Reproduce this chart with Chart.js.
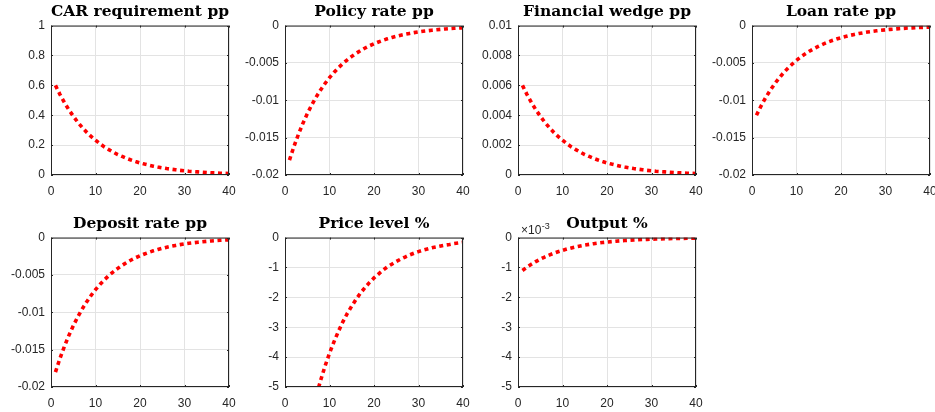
<!DOCTYPE html>
<html>
<head>
<meta charset="utf-8">
<script src="https://cdn.jsdelivr.net/npm/chart.js@4.4.1/dist/chart.umd.min.js"></script>
<style>
body { margin: 0; background: #fff; }
#wrap { position: relative; width: 935px; height: 412px; overflow: hidden; }
canvas { position: absolute; }
</style>
</head>
<body>
<div id="wrap">
<canvas id="car" width="237" height="197" style="left:0px;top:0px"></canvas>
<canvas id="policy" width="237" height="197" style="left:234px;top:0px"></canvas>
<canvas id="wedge" width="237" height="197" style="left:467px;top:0px"></canvas>
<canvas id="loan" width="237" height="197" style="left:701px;top:0px"></canvas>
<canvas id="deposit" width="237" height="197" style="left:0px;top:212px"></canvas>
<canvas id="price" width="237" height="197" style="left:234px;top:212px"></canvas>
<canvas id="output" width="237" height="197" style="left:467px;top:212px"></canvas>
</div>
<script>
const periods = [1,2,3,4,5,6,7,8,9,10,11,12,13,14,15,16,17,18,19,20,
                 21,22,23,24,25,26,27,28,29,30,31,32,33,34,35,36,37,38,39,40];

const carRequirement = [0.600,0.540,0.486,0.437,0.394,0.354,0.319,0.287,0.258,0.233,
  0.209,0.188,0.170,0.153,0.137,0.124,0.111,0.100,0.090,0.081,
  0.073,0.066,0.059,0.053,0.048,0.043,0.039,0.035,0.031,0.028,
  0.025,0.023,0.021,0.019,0.017,0.015,0.014,0.012,0.011,0.010];

const policyRate = [-0.01800,-0.01620,-0.01458,-0.01312,-0.01181,-0.01063,-0.00957,-0.00861,-0.00775,-0.00697,
  -0.00628,-0.00565,-0.00508,-0.00458,-0.00412,-0.00371,-0.00334,-0.00300,-0.00270,-0.00243,
  -0.00219,-0.00197,-0.00177,-0.00160,-0.00144,-0.00129,-0.00116,-0.00105,-0.00094,-0.00085,
  -0.00076,-0.00069,-0.00062,-0.00056,-0.00050,-0.00045,-0.00040,-0.00036,-0.00033,-0.00030];

const financialWedge = [0.00600,0.00540,0.00486,0.00437,0.00394,0.00354,0.00319,0.00287,0.00258,0.00233,
  0.00209,0.00188,0.00170,0.00153,0.00137,0.00124,0.00111,0.00100,0.00090,0.00081,
  0.00073,0.00066,0.00059,0.00053,0.00048,0.00043,0.00039,0.00035,0.00031,0.00028,
  0.00025,0.00023,0.00021,0.00019,0.00017,0.00015,0.00014,0.00012,0.00011,0.00010];

const loanRate = [-0.01200,-0.01080,-0.00972,-0.00875,-0.00787,-0.00709,-0.00638,-0.00574,-0.00517,-0.00465,
  -0.00418,-0.00377,-0.00339,-0.00305,-0.00275,-0.00247,-0.00222,-0.00200,-0.00180,-0.00162,
  -0.00146,-0.00131,-0.00118,-0.00106,-0.00096,-0.00086,-0.00078,-0.00070,-0.00063,-0.00057,
  -0.00051,-0.00046,-0.00041,-0.00037,-0.00033,-0.00030,-0.00027,-0.00024,-0.00022,-0.00020];

const depositRate = [-0.01800,-0.01620,-0.01458,-0.01312,-0.01181,-0.01063,-0.00957,-0.00861,-0.00775,-0.00697,
  -0.00628,-0.00565,-0.00508,-0.00458,-0.00412,-0.00371,-0.00334,-0.00300,-0.00270,-0.00243,
  -0.00219,-0.00197,-0.00177,-0.00160,-0.00144,-0.00129,-0.00116,-0.00105,-0.00094,-0.00085,
  -0.00076,-0.00069,-0.00062,-0.00056,-0.00050,-0.00045,-0.00040,-0.00036,-0.00033,-0.00030];

const priceLevel = [-10.00,-9.00,-8.10,-7.29,-6.56,-5.90,-5.31,-4.78,-4.30,-3.87,
  -3.49,-3.14,-2.82,-2.54,-2.29,-2.06,-1.85,-1.67,-1.50,-1.35,
  -1.22,-1.09,-0.98,-0.89,-0.80,-0.72,-0.65,-0.58,-0.52,-0.47,
  -0.42,-0.38,-0.34,-0.31,-0.28,-0.25,-0.23,-0.20,-0.18,-0.16];

const output = [-0.001100,-0.000990,-0.000891,-0.000802,-0.000722,-0.000650,-0.000585,-0.000526,-0.000473,-0.000426,
  -0.000383,-0.000345,-0.000311,-0.000280,-0.000252,-0.000227,-0.000204,-0.000183,-0.000165,-0.000149,
  -0.000134,-0.000120,-0.000108,-0.000098,-0.000088,-0.000079,-0.000071,-0.000064,-0.000058,-0.000052,
  -0.000047,-0.000042,-0.000038,-0.000034,-0.000031,-0.000028,-0.000025,-0.000022,-0.000020,-0.000018];

const xTicks = [0, 10, 20, 30, 40];

Chart.defaults.font.family = "'Liberation Sans', Arial, sans-serif";
Chart.defaults.font.size = 12;
Chart.defaults.color = '#262626';

// matlab style box with inward ticks on all sides
const boxPlugin = {
  id: 'box',
  afterDraw(chart) {
    let a = chart.chartArea;
    let ctx = chart.ctx;
    ctx.save();
    ctx.strokeStyle = '#262626';
    ctx.lineWidth = 1;
    ctx.strokeRect(a.left + 0.5, a.top + 0.5, a.right - a.left - 1, a.bottom - a.top - 1);
    ctx.beginPath();
    chart.scales.x.ticks.forEach(t => {
      let px = Math.round(chart.scales.x.getPixelForValue(t.value)) + 0.5;
      ctx.moveTo(px, a.bottom); ctx.lineTo(px, a.bottom - 2);
      ctx.moveTo(px, a.top); ctx.lineTo(px, a.top + 2);
    });
    chart.scales.y.ticks.forEach(t => {
      let py = Math.round(chart.scales.y.getPixelForValue(t.value)) + 0.5;
      ctx.moveTo(a.left, py); ctx.lineTo(a.left + 2, py);
      ctx.moveTo(a.right, py); ctx.lineTo(a.right - 2, py);
    });
    ctx.stroke();
    let exp = chart.options.plugins.box.exponent;
    if (exp) {
      ctx.fillStyle = '#262626';
      ctx.textAlign = 'left';
      ctx.textBaseline = 'alphabetic';
      ctx.font = "12px 'Liberation Sans', Arial, sans-serif";
      ctx.fillText('\u00d710', a.left + 3, a.top - 3.5);
      let w = ctx.measureText('\u00d710').width;
      ctx.font = "9px 'Liberation Sans', Arial, sans-serif";
      ctx.fillText(exp, a.left + 3 + w + 0.5, a.top - 9);
    }
    ctx.restore();
  }
};

function fmt(v) {
  return String(parseFloat(v.toFixed(6)));
}

function makePanel(id, title, values, yMin, yMax, yStep, tickFmt, exponent) {
  let pts = periods.map((p, i) => ({ x: p, y: values[i] }));
  return new Chart(document.getElementById(id).getContext('2d'), {
    type: 'line',
    data: {
      datasets: [{
        data: pts,
        borderColor: 'rgb(255,0,0)',
        borderWidth: 3.6,
        borderDash: [4, 3.6],
        borderCapStyle: 'butt',
        pointRadius: 0,
        tension: 0,
        fill: false,
        clip: 0
      }]
    },
    options: {
      responsive: false,
      animation: false,
      layout: { padding: { left: 0, right: 8, top: 0, bottom: 0 }, autoPadding: false },
      plugins: {
        legend: { display: false },
        tooltip: { enabled: false },
        title: {
          display: true,
          text: title,
          fullSize: false,
          color: '#000',
          font: { family: "'DejaVu Serif', serif", weight: 'bold', size: 15.5 },
          padding: { top: 3, bottom: 4 }
        },
        box: { exponent: exponent }
      },
      scales: {
        x: {
          type: 'linear',
          min: 0, max: 40,
          afterBuildTicks: s => { s.ticks = xTicks.map(v => ({ value: v })); },
          afterFit: s => { s.height = 22; s.paddingLeft = 0; s.paddingRight = 0; },
          grid: { color: '#e3e3e3', drawTicks: false },
          border: { display: false },
          ticks: { padding: 9, maxRotation: 0, callback: v => String(v) }
        },
        y: {
          min: yMin, max: yMax,
          afterFit: s => { s.width = 51; },
          grid: { color: '#e3e3e3', drawTicks: false },
          border: { display: false },
          ticks: { stepSize: yStep, padding: 6, callback: tickFmt }
        }
      }
    },
    plugins: [boxPlugin]
  });
}

makePanel('car', 'CAR requirement pp', carRequirement, 0, 1, 0.2, fmt);
makePanel('policy', 'Policy rate pp', policyRate, -0.02, 0, 0.005, fmt);
makePanel('wedge', 'Financial wedge pp', financialWedge, 0, 0.01, 0.002, fmt);
makePanel('loan', 'Loan rate pp', loanRate, -0.02, 0, 0.005, fmt);
makePanel('deposit', 'Deposit rate pp', depositRate, -0.02, 0, 0.005, fmt);
makePanel('price', 'Price level %', priceLevel, -5, 0, 1, fmt);
makePanel('output', 'Output %', output, -0.005, 0, 0.001, v => String(Math.round(v * 1000)), '-3');
</script>
</body>
</html>
